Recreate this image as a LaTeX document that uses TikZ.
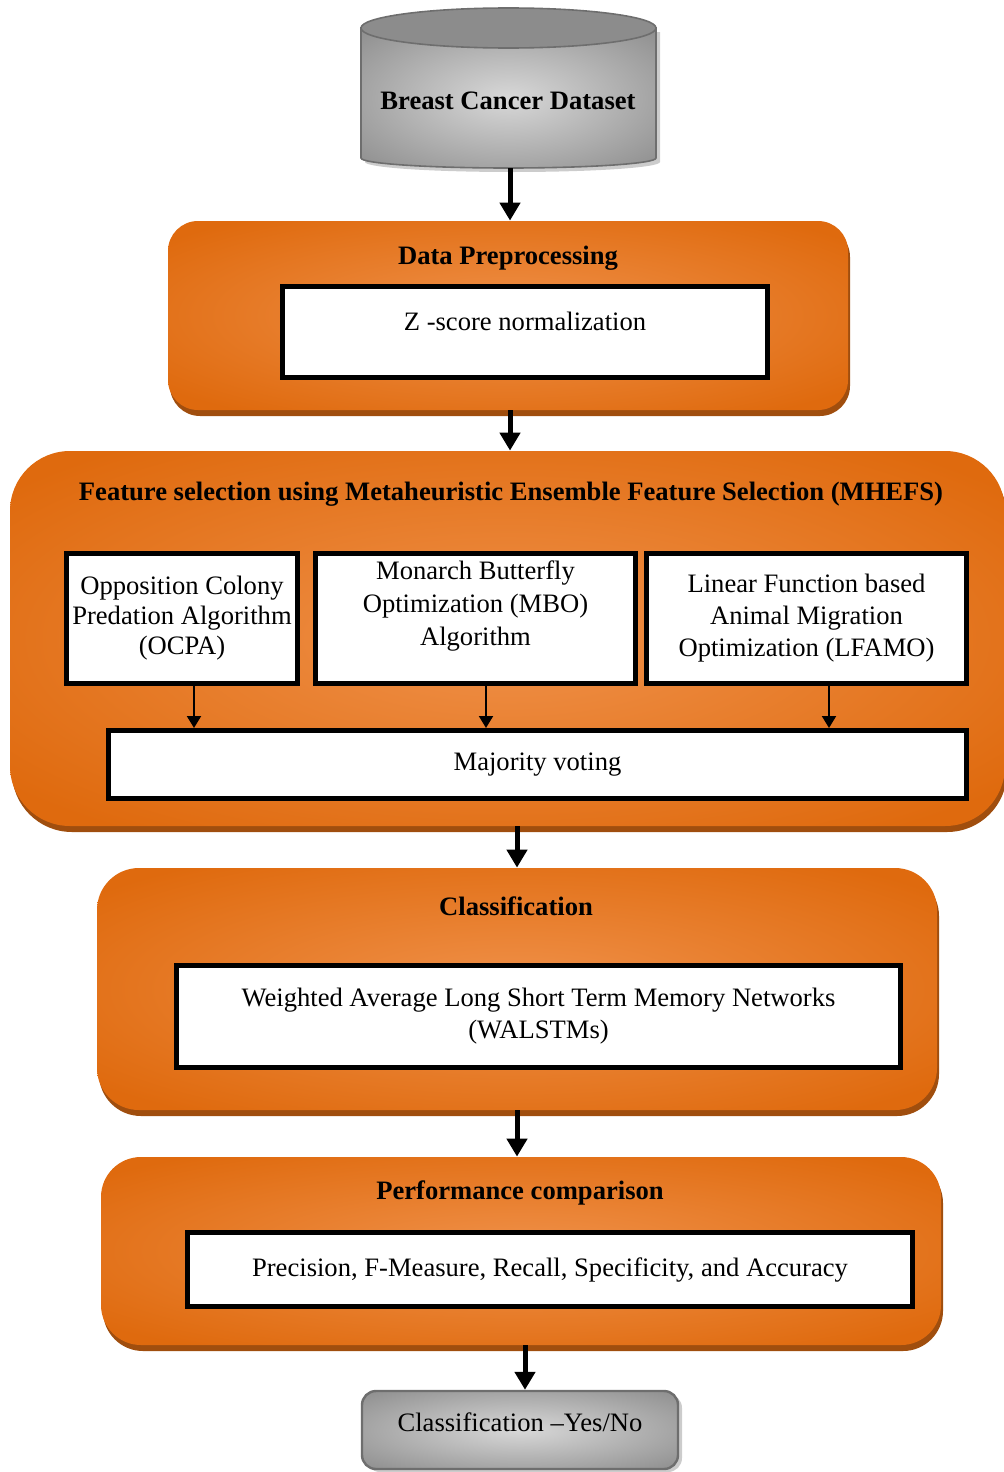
\documentclass[tikz,border=0pt]{standalone}
\usepackage{fontspec}
\setmainfont{Liberation Serif}
\usetikzlibrary{arrows.meta,shadows}

\definecolor{ordark}{HTML}{DF6A0E}
\definecolor{orlight}{HTML}{F0914A}
\definecolor{ordeep}{HTML}{A04E0E}
\definecolor{cylight}{HTML}{D8D8D8}
\definecolor{cydark}{HTML}{808080}
\definecolor{cytop}{HTML}{8C8C8C}
\definecolor{cyrim}{HTML}{6E6E6E}

\pgfdeclareradialshading{orangeglow}{\pgfpoint{0bp}{0bp}}{color(0bp)=(orlight); color(32bp)=(ordark); color(71bp)=(ordark)}
\pgfdeclareradialshading{greyglow}{\pgfpoint{0bp}{0bp}}{color(0bp)=(cylight); color(42bp)=(cydark); color(71bp)=(cydark)}

\newcommand{\diagfont}{\fontsize{13.3}{16}\selectfont}

\tikzset{
  txt/.style={font=\diagfont, align=center},
  title/.style={txt, font=\diagfont\bfseries},
  stage/.style={shade, shading=orangeglow, draw=none,
    drop shadow={shadow xshift=1pt, shadow yshift=-3pt, fill=ordeep, opacity=1}},
  method/.style={txt, draw, fill=white, line width=2.5pt, inner sep=0pt},
  result/.style={txt, shade, shading=greyglow, draw=cyrim, line width=1.2pt,
    rounded corners=7pt, inner sep=0pt,
    drop shadow={shadow xshift=2pt, shadow yshift=-1.5pt, fill=gray!40, opacity=1}},
  flow/.style={line width=2.5pt, -{Triangle[width=10pt,length=9pt]}},
  vote/.style={line width=1pt, -{Triangle[width=7pt,length=6pt]}},
}

\begin{document}
\begin{tikzpicture}[x=0.5pt, y=-0.5pt]
\useasboundingbox (0,0) rectangle (1003,1472);

% Dataset cylinder
\shade[shading=greyglow, draw=cyrim, line width=0.8pt,
  drop shadow={shadow xshift=2pt, shadow yshift=-2pt, fill=gray!40, opacity=1}]
  (361,28) -- (361,158) arc[start angle=180, end angle=0, x radius=147.5, y radius=10]
  -- (656,28) -- cycle;
\filldraw[fill=cytop, draw=cyrim, line width=0.8pt] (508.5,28) ellipse[x radius=147.5, y radius=20];
\node[title] (data) at (508,101) {Breast Cancer Dataset};
\coordinate (database) at (510,168);

% Stage boxes
\node[stage, minimum width=340pt, minimum height=94.5pt, rounded corners=15pt] (prep) at (508,315.5) {};
\node[stage, minimum width=497.5pt, minimum height=187.5pt, rounded corners=30pt] (feat) at (507.5,638.5) {};
\node[stage, minimum width=420pt, minimum height=121pt, rounded corners=21pt] (cls) at (517,989) {};
\node[stage, minimum width=420pt, minimum height=94pt, rounded corners=20pt] (perf) at (521,1251) {};

% Titles
\node[title] (preptitle) at (508,258) {Data Preprocessing};
\node[title] (feattitle) at (511,494) {Feature selection using Metaheuristic Ensemble Feature Selection (MHEFS)};
\node[title] (clstitle) at (516,906) {Classification};
\node[title] (perftitle) at (520,1193) {Performance comparison};

% Methods
\node[method, minimum width=242.5pt, minimum height=45.5pt, text depth=11pt] (zscore) at (525,332) {Z -score normalization};
\node[method, font=\fontsize{13.3}{15}\selectfont, minimum width=115.5pt, minimum height=65pt] (ocpa) at (182,618.5)
  {Opposition Colony\\Predation Algorithm\\(OCPA)};
\node[method, font=\fontsize{13.3}{16.5}\selectfont, minimum width=160pt, minimum height=65pt, text depth=15pt] (mbo) at (475.5,618.5)
  {Monarch Butterfly\\Optimization (MBO)\\Algorithm};
\node[method, minimum width=160pt, minimum height=65pt] (lfamo) at (806.5,618.5)
  {Linear Function based\\Animal Migration\\Optimization (LFAMO)};
\node[method, minimum width=429pt, minimum height=34pt] (vote) at (537.5,764.5) {Majority voting};
\node[method, minimum width=362pt, minimum height=51pt] (walstm) at (538.5,1016.5)
  {Weighted Average Long Short Term Memory Networks\\(WALSTMs)};
\node[method, minimum width=362.5pt, minimum height=37pt] (metrics) at (550,1269.5)
  {Precision, F-Measure, Recall, Specificity, and Accuracy};
\node[result, minimum width=158pt, minimum height=39pt, text depth=8pt] (outcome) at (520,1430) {Classification –Yes/No};

% Voting arrows
\draw[vote] ([xshift=6pt]ocpa.south) -- ([xshift=6pt]ocpa.south |- vote.north);
\draw[vote] ([xshift=5.25pt]mbo.south) -- ([xshift=5.25pt]mbo.south |- vote.north);
\draw[vote] ([xshift=11.25pt]lfamo.south) -- ([xshift=11.25pt]lfamo.south |- vote.north);

% Flow arrows
\draw[flow] (database) -- (database |- prep.north);
\draw[flow] ([xshift=1pt]prep.south) -- ([xshift=1pt]prep.south |- feat.north);
\draw[flow] (feat.south -| cls.north) -- (cls.north);
\draw[flow] (cls.south) -- (cls.south |- perf.north);
\draw[flow] ([xshift=2pt]perf.south) -- ([xshift=2pt]perf.south |- outcome.north);
\end{tikzpicture}
\end{document}
